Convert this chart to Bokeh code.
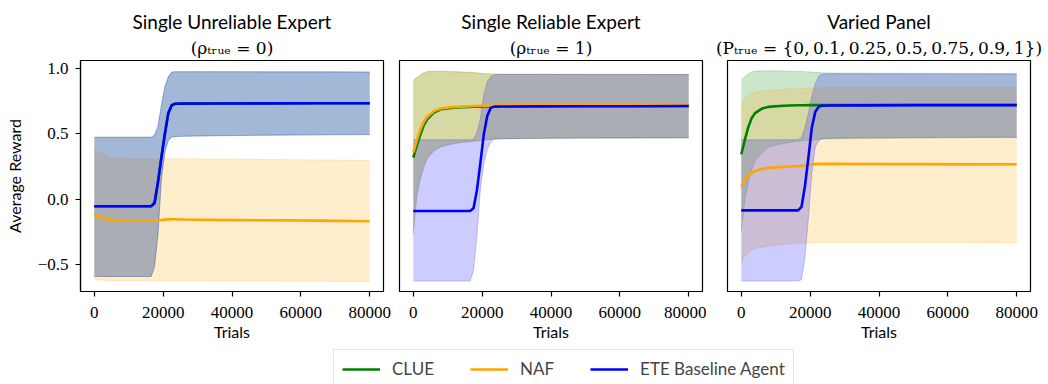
from bokeh.plotting import figure
from bokeh.models import (Range1d, FixedTicker, Title, Legend, LegendItem,
                          BasicTickFormatter, CustomJSTickFormatter)
from bokeh.layouts import column, row
from bokeh.embed import file_html
from bokeh.resources import INLINE

# ---------------- data ----------------
TRIALS = [0, 1000, 2000, 3000, 4000, 6000, 8000, 11000, 14000, 16500, 17500,
          18500, 19500, 20500, 21500, 22500, 23500, 26000, 35000, 50000, 65000, 80000]

SERIES = ["CLUE", "NAF", "ETE Baseline Agent"]
COLORS = ["green", "orange", "blue"]

PANEL_TITLES = ["Single Unreliable Expert", "Single Reliable Expert", "Varied Panel"]
PANEL_SUBTITLES = ["(\u03c1\u209c\u1d63\u1d64\u2091 = 0)", "(\u03c1\u209c\u1d63\u1d64\u2091 = 1)",
                   "(P\u209c\u1d63\u1d64\u2091 = {0,\u20090.1,\u20090.25,\u20090.5,\u20090.75,\u20090.9,\u20091})"]

X_TICKS = [0, 20000, 40000, 60000, 80000]
Y_TICKS = [-0.5, 0.0, 0.5, 1.0]

# Panel 1: single unreliable expert
p1_clue_mean = [-0.055, -0.055, -0.055, -0.055, -0.055, -0.055, -0.055, -0.055, -0.055, -0.055, -0.03,
                0.13, 0.32, 0.50, 0.66, 0.72, 0.732, 0.733, 0.734, 0.735, 0.736, 0.736]
p1_clue_lo = [-0.595, -0.595, -0.595, -0.595, -0.595, -0.595, -0.595, -0.595, -0.595, -0.595, -0.52,
              -0.27, 0.15, 0.36, 0.45, 0.475, 0.48, 0.482, 0.486, 0.49, 0.493, 0.495]
p1_clue_hi = [0.475, 0.475, 0.475, 0.475, 0.475, 0.475, 0.475, 0.475, 0.475, 0.475, 0.49,
              0.56, 0.72, 0.86, 0.94, 0.975, 0.978, 0.978, 0.978, 0.977, 0.977, 0.976]
p1_naf_mean = [-0.118, -0.13, -0.142, -0.15, -0.156, -0.162, -0.165, -0.166, -0.166, -0.166, -0.165,
               -0.163, -0.161, -0.158, -0.156, -0.155, -0.155, -0.157, -0.160, -0.163, -0.166, -0.170]
p1_naf_lo = [-0.615, -0.62, -0.622, -0.624, -0.625, -0.626, -0.627, -0.627, -0.628, -0.628, -0.628,
             -0.628, -0.627, -0.627, -0.627, -0.627, -0.627, -0.628, -0.629, -0.630, -0.632, -0.635]
p1_naf_hi = [0.38, 0.365, 0.35, 0.335, 0.322, 0.313, 0.31, 0.308, 0.308, 0.308, 0.308,
             0.309, 0.31, 0.31, 0.31, 0.31, 0.31, 0.309, 0.307, 0.304, 0.30, 0.297]
p1_ete_mean = [-0.055, -0.055, -0.055, -0.055, -0.055, -0.055, -0.055, -0.055, -0.055, -0.055, -0.03,
               0.13, 0.32, 0.50, 0.66, 0.72, 0.732, 0.733, 0.734, 0.735, 0.736, 0.736]
p1_ete_lo = [-0.595, -0.595, -0.595, -0.595, -0.595, -0.595, -0.595, -0.595, -0.595, -0.595, -0.52,
             -0.27, 0.15, 0.36, 0.45, 0.475, 0.48, 0.482, 0.486, 0.49, 0.493, 0.495]
p1_ete_hi = [0.475, 0.475, 0.475, 0.475, 0.475, 0.475, 0.475, 0.475, 0.475, 0.475, 0.49,
             0.56, 0.72, 0.86, 0.94, 0.975, 0.978, 0.978, 0.978, 0.977, 0.977, 0.976]

# Panel 2: single reliable expert
p2_clue_mean = [0.318, 0.41, 0.49, 0.565, 0.61, 0.665, 0.69, 0.70, 0.705, 0.708, 0.709,
                0.71, 0.71, 0.711, 0.711, 0.712, 0.712, 0.713, 0.714, 0.714, 0.715, 0.715]
p2_clue_lo = [-0.27, 0.02, 0.15, 0.24, 0.31, 0.37, 0.40, 0.42, 0.435, 0.44, 0.443,
              0.446, 0.449, 0.452, 0.455, 0.458, 0.461, 0.463, 0.466, 0.468, 0.469, 0.47]
p2_clue_hi = [0.91, 0.93, 0.95, 0.968, 0.978, 0.98, 0.98, 0.978, 0.975, 0.972, 0.97,
              0.968, 0.965, 0.963, 0.961, 0.96, 0.959, 0.958, 0.958, 0.957, 0.957, 0.956]
p2_naf_mean = [0.356, 0.45, 0.53, 0.59, 0.63, 0.675, 0.695, 0.705, 0.71, 0.713, 0.714,
               0.715, 0.716, 0.717, 0.717, 0.718, 0.718, 0.719, 0.719, 0.72, 0.72, 0.72]
p2_naf_lo = [-0.26, 0.03, 0.16, 0.25, 0.315, 0.375, 0.405, 0.425, 0.438, 0.443, 0.446,
             0.449, 0.452, 0.455, 0.458, 0.46, 0.463, 0.465, 0.467, 0.469, 0.47, 0.471]
p2_naf_hi = [0.915, 0.935, 0.955, 0.97, 0.98, 0.982, 0.982, 0.98, 0.977, 0.974, 0.972,
             0.97, 0.967, 0.965, 0.963, 0.962, 0.961, 0.96, 0.96, 0.959, 0.959, 0.958]
p2_ete_mean = [-0.092, -0.092, -0.092, -0.092, -0.092, -0.092, -0.092, -0.092, -0.092, -0.092, -0.07,
               0.07, 0.28, 0.50, 0.64, 0.70, 0.71, 0.711, 0.712, 0.713, 0.713, 0.714]
p2_ete_lo = [-0.63, -0.63, -0.63, -0.63, -0.63, -0.63, -0.63, -0.63, -0.63, -0.63, -0.55,
             -0.28, 0.08, 0.27, 0.38, 0.44, 0.46, 0.463, 0.466, 0.468, 0.469, 0.47]
p2_ete_hi = [0.455, 0.455, 0.455, 0.455, 0.455, 0.455, 0.455, 0.455, 0.455, 0.455, 0.46,
             0.51, 0.62, 0.80, 0.90, 0.94, 0.955, 0.957, 0.957, 0.957, 0.957, 0.956]

# Panel 3: varied panel
p3_clue_mean = [0.344, 0.45, 0.55, 0.62, 0.66, 0.695, 0.708, 0.715, 0.718, 0.72, 0.72,
                0.72, 0.721, 0.721, 0.721, 0.722, 0.722, 0.722, 0.722, 0.723, 0.723, 0.723]
p3_clue_lo = [-0.25, -0.02, 0.13, 0.22, 0.29, 0.36, 0.40, 0.42, 0.435, 0.445, 0.447,
              0.449, 0.451, 0.453, 0.455, 0.457, 0.46, 0.462, 0.465, 0.468, 0.47, 0.472]
p3_clue_hi = [0.913, 0.94, 0.96, 0.975, 0.983, 0.985, 0.985, 0.984, 0.982, 0.98, 0.979,
              0.978, 0.977, 0.975, 0.973, 0.971, 0.97, 0.968, 0.967, 0.966, 0.965, 0.965]
p3_naf_mean = [0.10, 0.15, 0.18, 0.20, 0.215, 0.23, 0.24, 0.245, 0.25, 0.253, 0.255,
               0.258, 0.262, 0.266, 0.268, 0.27, 0.27, 0.27, 0.269, 0.268, 0.266, 0.267]
p3_naf_lo = [-0.49, -0.44, -0.41, -0.39, -0.38, -0.37, -0.36, -0.35, -0.345, -0.34, -0.339,
             -0.338, -0.337, -0.337, -0.336, -0.336, -0.336, -0.336, -0.336, -0.336, -0.336, -0.337]
p3_naf_hi = [0.74, 0.77, 0.79, 0.81, 0.82, 0.83, 0.835, 0.84, 0.845, 0.848, 0.849,
             0.85, 0.851, 0.852, 0.853, 0.854, 0.855, 0.855, 0.855, 0.855, 0.855, 0.855]
p3_ete_mean = [-0.087, -0.087, -0.087, -0.087, -0.087, -0.087, -0.087, -0.087, -0.087, -0.087, -0.06,
               0.10, 0.32, 0.55, 0.67, 0.71, 0.717, 0.718, 0.719, 0.72, 0.72, 0.72]
p3_ete_lo = [-0.63, -0.63, -0.63, -0.63, -0.63, -0.63, -0.63, -0.63, -0.63, -0.63, -0.62,
             -0.45, -0.15, 0.20, 0.40, 0.45, 0.465, 0.467, 0.47, 0.472, 0.474, 0.475]
p3_ete_hi = [0.455, 0.455, 0.455, 0.455, 0.455, 0.455, 0.455, 0.455, 0.455, 0.455, 0.47,
             0.55, 0.66, 0.79, 0.89, 0.945, 0.96, 0.962, 0.962, 0.961, 0.961, 0.96]

PANELS = [
    [(p1_clue_mean, p1_clue_lo, p1_clue_hi), (p1_naf_mean, p1_naf_lo, p1_naf_hi), (p1_ete_mean, p1_ete_lo, p1_ete_hi)],
    [(p2_clue_mean, p2_clue_lo, p2_clue_hi), (p2_naf_mean, p2_naf_lo, p2_naf_hi), (p2_ete_mean, p2_ete_lo, p2_ete_hi)],
    [(p3_clue_mean, p3_clue_lo, p3_clue_hi), (p3_naf_mean, p3_naf_lo, p3_naf_hi), (p3_ete_mean, p3_ete_lo, p3_ete_hi)],
]

# ---------------- styling ----------------
SERIF = "Liberation Serif"
SANS = "Lato"
MATH = "DejaVu Serif"
FIG_H = 346
WIDTHS = [391, 315, 342]
BORDER_L = [80, 8, 21]
BORDER_R = [8, 4, 18]


def make_panel(i):
    show_y = (i == 0)
    p = figure(width=WIDTHS[i], height=FIG_H,
               x_range=Range1d(-4000, 84000), y_range=Range1d(-0.71, 1.064),
               output_backend="svg", toolbar_location=None,
               y_axis_location="left" if show_y else None,
               min_border_left=BORDER_L[i], min_border_right=BORDER_R[i],
               min_border_top=60, min_border_bottom=55)
    p.title = None
    p.add_layout(Title(text=PANEL_SUBTITLES[i], align="center", text_font=MATH,
                       text_font_size="17px", text_font_style="normal",
                       text_color="black", standoff=5), "above")
    p.add_layout(Title(text=PANEL_TITLES[i], align="center", text_font=SANS,
                       text_font_size="19px", text_font_style="normal",
                       text_color="black", standoff=2), "above")
    p.grid.visible = False
    p.outline_line_color = "black"
    p.outline_line_width = 1.2
    p.outline_line_alpha = 1.0
    p.background_fill_color = "white"
    p.border_fill_color = "white"

    xa = p.xaxis[0]
    xa.ticker = FixedTicker(ticks=X_TICKS, minor_ticks=[])
    xa.formatter = BasicTickFormatter(use_scientific=False)
    xa.axis_label = "Trials"
    for ax in p.axis:
        ax.axis_line_color = "black"
        ax.axis_line_width = 1.2
        ax.major_tick_line_color = "black"
        ax.major_tick_line_width = 1.2
        ax.major_tick_out = 5
        ax.major_tick_in = 0
        ax.minor_tick_line_color = None
        ax.major_label_text_font = SERIF
        ax.major_label_text_font_size = "17px"
        ax.major_label_text_color = "black"
        ax.major_label_standoff = 10
        ax.axis_label_text_font = SANS
        ax.axis_label_text_font_size = "16px"
        ax.axis_label_text_font_style = "normal"
        ax.axis_label_text_color = "black"
        ax.axis_label_standoff = 1
    if show_y:
        ya = p.yaxis[0]
        ya.ticker = FixedTicker(ticks=Y_TICKS, minor_ticks=[])
        ya.formatter = CustomJSTickFormatter(code="return tick.toFixed(1).replace('-', '\u2212');")
        ya.axis_label = "Average Reward"
        ya.major_label_standoff = 7
        ya.axis_label_standoff = 11

    for (mean, lo, hi), color in zip(PANELS[i], COLORS):
        p.varea(x=TRIALS, y1=lo, y2=hi, fill_color=color, fill_alpha=0.2)
        p.line(x=TRIALS, y=lo, line_color=color, line_alpha=0.2, line_width=1)
        p.line(x=TRIALS, y=hi, line_color=color, line_alpha=0.2, line_width=1)
    for (mean, lo, hi), color in zip(PANELS[i], COLORS):
        p.line(x=TRIALS, y=mean, line_color=color, line_width=2.6)
    return p


panels = [make_panel(i) for i in range(3)]

# legend strip (its line renderers lie outside the visible range; only the legend shows)
pl = figure(width=1048, height=38, output_backend="svg", toolbar_location=None,
            x_axis_type=None, y_axis_type=None, x_range=Range1d(0, 80000), y_range=Range1d(10, 11),
            min_border=0, min_border_left=0, min_border_right=0, min_border_top=0, min_border_bottom=0)
pl.outline_line_color = None
pl.grid.visible = False
items = []
for name, color, (mean, lo, hi) in zip(SERIES, COLORS, PANELS[2]):
    r = pl.line(x=TRIALS, y=mean, line_color=color, line_width=2.6)
    items.append(LegendItem(label=name, renderers=[r]))
legend = Legend(items=items, orientation="horizontal", location=(333, -4),
                glyph_width=38, glyph_height=20, label_standoff=12, spacing=36,
                padding=8, margin=0, border_line_color="#cccccc", border_line_width=1.2,
                label_text_font=SANS, label_text_font_size="17px", label_height=20,
                background_fill_color="white", background_fill_alpha=1.0)
pl.add_layout(legend, "center")

layout = column(row(*panels, spacing=0), pl, spacing=0)
open("out.html", "w").write(file_html(layout, INLINE))
